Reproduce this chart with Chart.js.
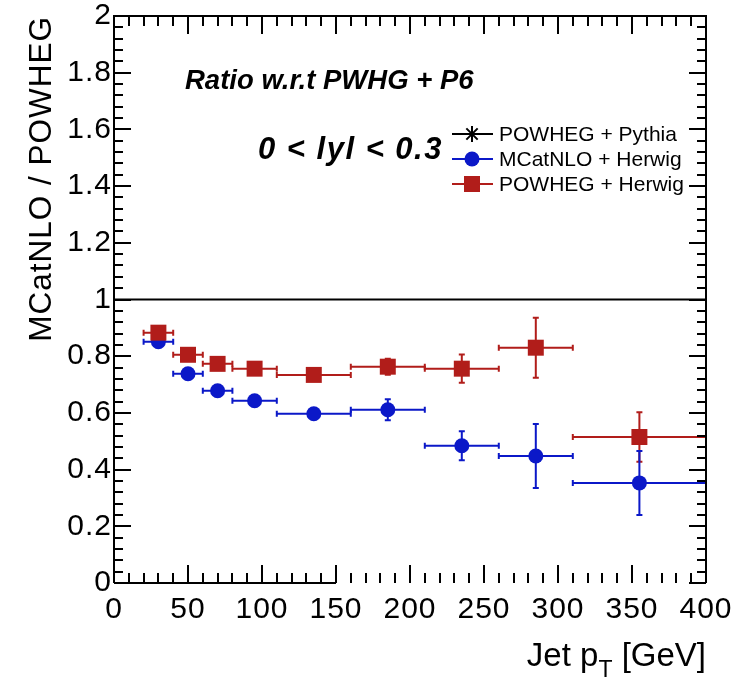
<!DOCTYPE html>
<html>
<head>
<meta charset="utf-8">
<script src="https://cdn.jsdelivr.net/npm/chart.js@4.4.0/dist/chart.umd.min.js"></script>
<style>
  html, body { margin: 0; padding: 0; background: #ffffff; }
  #wrap { width: 735px; height: 683px; }
</style>
</head>
<body>
<div id="wrap"><canvas id="ratio" width="735" height="683"></canvas></div>
<script>
// Jet pT binning (GeV)
const binLow    = [20, 40, 60, 80, 110, 160, 210, 260, 310];
const binHigh   = [40, 60, 80, 110, 160, 210, 260, 310, 400];
const binCenter = [30, 50, 70, 95, 135, 185, 235, 285, 355];

// Ratios to POWHEG + Pythia6, 0 < |y| < 0.3
const mcatnloHerwig    = [0.851, 0.738, 0.678, 0.643, 0.597, 0.611, 0.484, 0.448, 0.353];
const mcatnloHerwigErr = [0.010, 0.010, 0.010, 0.010, 0.010, 0.037, 0.051, 0.113, 0.113];
const powhegHerwig     = [0.883, 0.805, 0.773, 0.756, 0.734, 0.763, 0.756, 0.830, 0.515];
const powhegHerwigErr  = [0.010, 0.010, 0.010, 0.010, 0.010, 0.028, 0.050, 0.106, 0.087];

// Reference sample (ratio to itself)
const pythiaX     = [0, 400];
const pythiaRatio = [1, 1];

// Axis ticks
const xTicks = [0, 50, 100, 150, 200, 250, 300, 350, 400];
const yTicks = [0, 0.2, 0.4, 0.6, 0.8, 1, 1.2, 1.4, 1.6, 1.8, 2];
const xMinorStep = 10;
const yMinorStep = 0.04;

const FONT = "'Liberation Sans', Arial, Helvetica, sans-serif";
const RED = '#b11d1a';
const BLUE = '#0b18c8';

function drawStar(ctx, x, y, r) {
  ctx.beginPath();
  for (let k = 0; k < 4; k++) {
    const a = k * Math.PI / 4;
    ctx.moveTo(x - r * Math.cos(a), y - r * Math.sin(a));
    ctx.lineTo(x + r * Math.cos(a), y + r * Math.sin(a));
  }
  ctx.stroke();
}

// ROOT-like frame, inward ticks, error bars, legend and captions
const rootStyle = {
  id: 'rootStyle',
  beforeDraw(chart) {
    // slightly wider tick labels
    chart.ctx.letterSpacing = '1px';
  },
  beforeDatasetsDraw(chart) {
    const { ctx, chartArea: a, scales: { x, y } } = chart;
    ctx.save();
    ctx.beginPath();
    ctx.rect(a.left, a.top, a.right - a.left, a.bottom - a.top + 1);
    ctx.clip();
    chart.data.datasets.forEach(ds => {
      if (!ds.errorBars) return;
      ctx.strokeStyle = ds.borderColor;
      ctx.lineWidth = 2;
      ds.errorBars.forEach((e, i) => {
        const v = ds.data[i].y;
        const px = x.getPixelForValue(binCenter[i]);
        const py = y.getPixelForValue(v);
        const x0 = x.getPixelForValue(binLow[i]);
        const x1 = x.getPixelForValue(binHigh[i]);
        const y0 = y.getPixelForValue(v - e);
        const y1 = y.getPixelForValue(v + e);
        ctx.beginPath();
        ctx.moveTo(x0, py); ctx.lineTo(x1, py);
        ctx.moveTo(px, y0); ctx.lineTo(px, y1);
        ctx.moveTo(x0, py - 3); ctx.lineTo(x0, py + 3);
        ctx.moveTo(x1, py - 3); ctx.lineTo(x1, py + 3);
        ctx.moveTo(px - 3, y0); ctx.lineTo(px + 3, y0);
        ctx.moveTo(px - 3, y1); ctx.lineTo(px + 3, y1);
        ctx.stroke();
      });
    });
    ctx.restore();
  },
  afterDraw(chart) {
    const { ctx, chartArea: a, scales: { x, y } } = chart;
    ctx.save();
    ctx.letterSpacing = '0px';
    ctx.strokeStyle = '#000';
    ctx.lineWidth = 2;

    // frame
    ctx.beginPath();
    ctx.moveTo(a.left, a.bottom); ctx.lineTo(a.left, a.top);
    ctx.lineTo(a.right, a.top); ctx.lineTo(a.right, a.bottom);
    ctx.moveTo(a.left, a.bottom); ctx.lineTo(x.getPixelForValue(150), a.bottom);
    ctx.moveTo(a.right - 5, a.bottom); ctx.lineTo(a.right, a.bottom);
    ctx.stroke();

    // x ticks (bottom and top, inward)
    ctx.beginPath();
    for (let v = x.min; v <= x.max + 1e-9; v += xMinorStep) {
      const px = Math.round(x.getPixelForValue(v));
      const major = xTicks.includes(Math.round(v));
      const len = major ? 18 : 10;
      ctx.moveTo(px, a.bottom); ctx.lineTo(px, a.bottom - len);
      ctx.moveTo(px, a.top); ctx.lineTo(px, a.top + len);
    }
    // y ticks (left and right, inward)
    for (let k = 0; k <= Math.round((y.max - y.min) / yMinorStep); k++) {
      const v = y.min + k * yMinorStep;
      const py = Math.round(y.getPixelForValue(v));
      const major = yTicks.some(t => Math.abs(t - v) < 1e-6);
      const len = major ? 17 : 9;
      ctx.moveTo(a.left, py); ctx.lineTo(a.left + len, py);
      ctx.moveTo(a.right, py); ctx.lineTo(a.right - len, py);
    }
    ctx.stroke();

    // captions
    ctx.fillStyle = '#000';
    ctx.textBaseline = 'alphabetic';
    ctx.textAlign = 'left';
    ctx.font = `italic bold 27.5px ${FONT}`;
    ctx.fillText('Ratio w.r.t PWHG + P6', 185, 89);
    ctx.font = `italic bold 31px ${FONT}`;
    ctx.letterSpacing = '1.5px';
    ctx.fillText('0 < lyl < 0.3', 258, 159);
    ctx.letterSpacing = '0px';

    // x-axis title with subscript
    const parts = [['Jet p', 33, 0], ['T', 23, 11], [' [GeV]', 33, 0]];
    let total = 0;
    parts.forEach(([t, s]) => { ctx.font = `${s}px ${FONT}`; total += ctx.measureText(t).width; });
    let cx = a.right - total;
    parts.forEach(([t, s, dy]) => {
      ctx.font = `${s}px ${FONT}`;
      ctx.fillText(t, cx, 666 + dy);
      cx += ctx.measureText(t).width;
    });

    // legend
    const rows = [
      { ds: chart.data.datasets[2], y: 134, kind: 'star' },
      { ds: chart.data.datasets[1], y: 159, kind: 'circle' },
      { ds: chart.data.datasets[0], y: 184, kind: 'rect' }
    ];
    ctx.font = `21px ${FONT}`;
    ctx.textBaseline = 'middle';
    rows.forEach(r => {
      const col = r.ds.borderColor;
      ctx.strokeStyle = col; ctx.fillStyle = col; ctx.lineWidth = 2;
      ctx.beginPath(); ctx.moveTo(452, r.y); ctx.lineTo(493, r.y); ctx.stroke();
      const mx = 472;
      if (r.kind === 'star') {
        drawStar(ctx, mx, r.y, 8);
      } else if (r.kind === 'circle') {
        ctx.beginPath(); ctx.arc(mx, r.y, 7.5, 0, Math.PI * 2); ctx.fill();
      } else {
        ctx.fillRect(mx - 8, r.y - 8, 16, 16);
      }
      ctx.fillStyle = '#000';
      ctx.fillText(r.ds.label, 499, r.y + 1);
    });
    ctx.restore();
  }
};

new Chart(document.getElementById('ratio'), {
  type: 'scatter',
  data: {
    datasets: [
      {
        label: 'POWHEG + Herwig',
        data: binCenter.map((v, i) => ({ x: v, y: powhegHerwig[i] })),
        errorBars: powhegHerwigErr,
        pointStyle: 'rect',
        pointRadius: 11.3,
        pointHoverRadius: 11.3,
        backgroundColor: RED,
        borderColor: RED,
        borderWidth: 0,
        order: 0
      },
      {
        label: 'MCatNLO + Herwig',
        data: binCenter.map((v, i) => ({ x: v, y: mcatnloHerwig[i] })),
        errorBars: mcatnloHerwigErr,
        pointStyle: 'circle',
        pointRadius: 7.5,
        pointHoverRadius: 7.5,
        backgroundColor: BLUE,
        borderColor: BLUE,
        borderWidth: 0,
        order: 1
      },
      {
        label: 'POWHEG + Pythia',
        data: pythiaX.map((v, i) => ({ x: v, y: pythiaRatio[i] })),
        showLine: true,
        pointRadius: 0,
        borderColor: '#000000',
        backgroundColor: '#000000',
        borderWidth: 2,
        order: 2
      }
    ]
  },
  options: {
    responsive: false,
    animation: false,
    devicePixelRatio: 1,
    layout: { padding: { top: 16, right: 29, bottom: 0, left: 0 } },
    plugins: { legend: { display: false }, tooltip: { enabled: false } },
    scales: {
      x: {
        type: 'linear',
        min: 0,
        max: 400,
        afterBuildTicks: s => { s.ticks = xTicks.map(v => ({ value: v })); },
        afterFit: s => { s.height = 100; s.paddingLeft = 0; s.paddingRight = 0; },
        grid: { display: false, drawTicks: false },
        border: { display: false },
        ticks: {
          color: '#000',
          font: { family: FONT, size: 30 },
          padding: 9,
          maxRotation: 0,
          autoSkip: false
        }
      },
      y: {
        type: 'linear',
        min: 0,
        max: 2,
        afterBuildTicks: s => { s.ticks = yTicks.map(v => ({ value: v })); },
        afterFit: s => { s.width = 114; s.paddingTop = 0; s.paddingBottom = 0; },
        grid: { display: false, drawTicks: false },
        border: { display: false },
        ticks: {
          color: '#000',
          font: { family: FONT, size: 30 },
          padding: 2,
          autoSkip: false,
          callback: v => String(Number(v.toFixed(1)))
        },
        title: {
          display: true,
          text: 'MCatNLO / POWHEG',
          align: 'end',
          color: '#000',
          font: { family: FONT, size: 31.5 },
          padding: { top: 23, bottom: 0 }
        }
      }
    }
  },
  plugins: [rootStyle]
});
</script>
</body>
</html>
